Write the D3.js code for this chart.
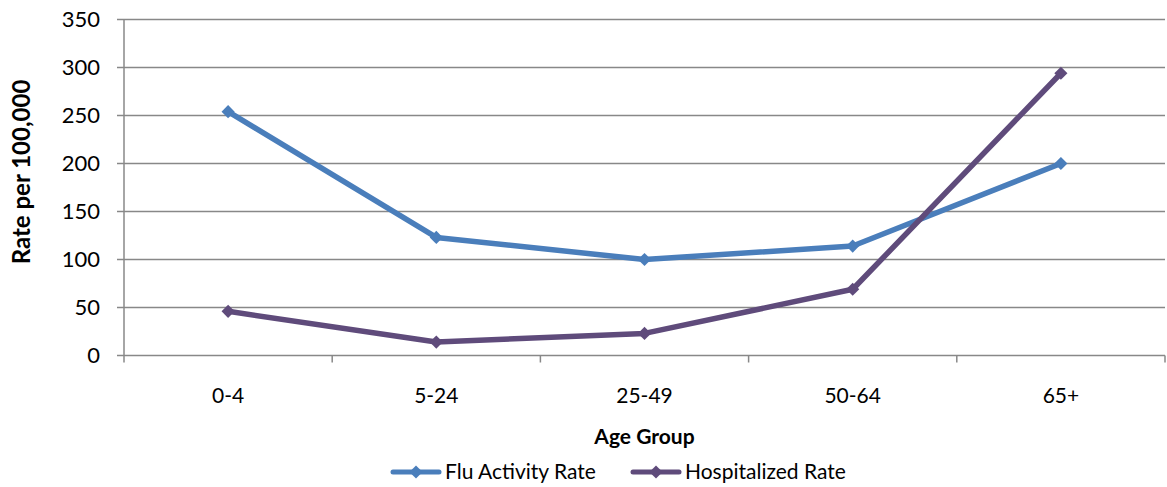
<!DOCTYPE html>
<html>
<head>
<meta charset="utf-8">
<script src="https://cdn.jsdelivr.net/npm/d3@7"></script>
<style>
  body { margin: 0; background: #fff; }
  svg text { font-family: Lato, "Open Sans", sans-serif; fill: #000; }
</style>
</head>
<body>
<svg width="1167" height="487"></svg>
<script>
// chart data
let ageGroups = ["0-4", "5-24", "25-49", "50-64", "65+"];
let fluRate = [254, 123, 100, 114, 200];
let hospRate = [46, 14, 23, 69, 294];
let yTicks = [0, 50, 100, 150, 200, 250, 300, 350];
let seriesNames = ["Flu Activity Rate", "Hospitalized Rate"];
let seriesColors = ["#4a7ebb", "#5f4b7b"];

var svg = d3.select("svg");
var plotLeft = 124, plotRight = 1165, plotTop = 19.5, plotBottom = 355.5;

var x = d3.scaleBand().domain(ageGroups).range([plotLeft, plotRight]);
var y = d3.scaleLinear().domain([0, 350]).range([plotBottom, plotTop]);

// grid lines
svg.append("g").selectAll("line").data(yTicks).enter().append("line")
    .attr("x1", plotLeft - 7).attr("x2", plotRight)
    .attr("y1", d => y(d)).attr("y2", d => y(d))
    .attr("stroke", "#888").attr("stroke-width", 1.5);

// y axis line
svg.append("line")
    .attr("x1", plotLeft).attr("x2", plotLeft)
    .attr("y1", plotTop).attr("y2", plotBottom + 7)
    .attr("stroke", "#888").attr("stroke-width", 1.5);

// x tick marks at band boundaries
svg.append("g").selectAll("line").data(ageGroups).enter().append("line")
    .attr("x1", d => x(d) + x.bandwidth()).attr("x2", d => x(d) + x.bandwidth())
    .attr("y1", plotBottom).attr("y2", plotBottom + 7)
    .attr("stroke", "#888").attr("stroke-width", 1.5);

// y tick labels
svg.append("g").selectAll("text").data(yTicks).enter().append("text")
    .attr("x", 100).attr("y", d => y(d)).attr("dy", "0.35em")
    .attr("text-anchor", "end").style("font-size", "22px")
    .text(d => d);

// x tick labels
svg.append("g").selectAll("text").data(ageGroups).enter().append("text")
    .attr("x", d => x(d) + x.bandwidth() / 2).attr("y", 403)
    .attr("text-anchor", "middle").style("font-size", "21px")
    .text(d => d);

// axis titles
svg.append("text")
    .attr("x", (plotLeft + plotRight) / 2).attr("y", 444)
    .attr("text-anchor", "middle").style("font-size", "21px").style("font-weight", "bold")
    .text("Age Group");

svg.append("text")
    .attr("transform", "translate(30,172) rotate(-90)")
    .attr("text-anchor", "middle").style("font-size", "24px").style("font-weight", "bold")
    .text("Rate per 100,000");

var line = d3.line()
    .x((d, i) => x(ageGroups[i]) + x.bandwidth() / 2)
    .y(d => y(d));

var diamond = d3.symbol().type(d3.symbolDiamond2).size(110);

[fluRate, hospRate].forEach((series, s) => {
    svg.append("path")
        .attr("d", line(series))
        .attr("fill", "none")
        .attr("stroke", seriesColors[s])
        .attr("stroke-width", 5.5)
        .attr("stroke-linejoin", "round");

    svg.append("g").selectAll("path").data(series).enter().append("path")
        .attr("transform", (d, i) => `translate(${x(ageGroups[i]) + x.bandwidth() / 2},${y(d)})`)
        .attr("d", diamond)
        .attr("fill", seriesColors[s]);
});

// legend
var legendX = [391, 631];
seriesNames.forEach((name, s) => {
    var g = svg.append("g").attr("transform", `translate(${legendX[s]},472)`);
    g.append("line")
        .attr("x1", 2).attr("x2", 48)
        .attr("y1", 0).attr("y2", 0)
        .attr("stroke", seriesColors[s]).attr("stroke-width", 5)
        .attr("stroke-linecap", "round");
    g.append("path")
        .attr("transform", "translate(25,0)")
        .attr("d", diamond)
        .attr("fill", seriesColors[s]);
    g.append("text")
        .attr("x", 54).attr("y", 0).attr("dy", "0.35em")
        .style("font-size", "21px")
        .text(name);
});
</script>
</body>
</html>
